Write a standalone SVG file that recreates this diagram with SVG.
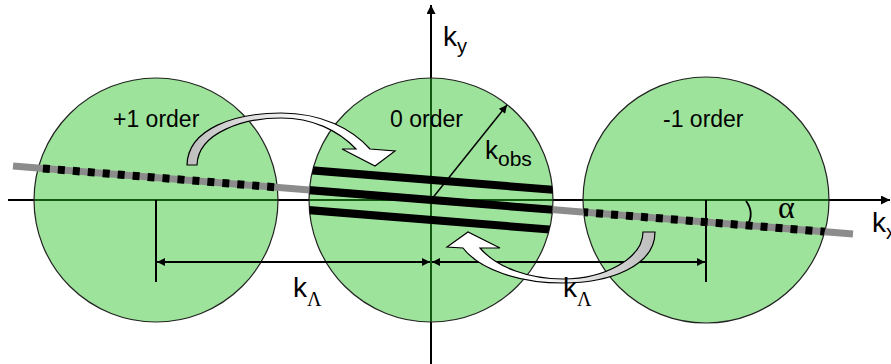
<svg xmlns="http://www.w3.org/2000/svg" width="891" height="364" viewBox="0 0 891 364">
<style>
.axis{stroke:#000;stroke-width:2;fill:none}
.circ{fill:#2bc225;fill-opacity:0.46;stroke:#222;stroke-width:1.2}
.lbl{font-family:"Liberation Sans",Arial,sans-serif;fill:#000}
.greek{font-family:"Liberation Serif","Times New Roman",serif;fill:#000}
.dim{stroke:#000;stroke-width:2;fill:none}
.carrow{stroke:#000;stroke-width:1.2}
</style>
<defs>
<marker id="ah" viewBox="0 0 10 10" refX="10" refY="5" markerWidth="12" markerHeight="9" orient="auto-start-reverse" markerUnits="userSpaceOnUse">
<path d="M0,0 L10,5 L0,10 z" fill="#000"/>
</marker>
<marker id="ahs" viewBox="0 0 10 10" refX="10" refY="5" markerWidth="10" markerHeight="8" orient="auto-start-reverse" markerUnits="userSpaceOnUse">
<path d="M0,0 L10,5 L0,10 z" fill="#000"/>
</marker>
<linearGradient id="gL" x1="0" y1="0" x2="1" y2="0">
<stop offset="0" stop-color="#bdbdbd"/>
<stop offset="0.6" stop-color="#ffffff"/>
<stop offset="1" stop-color="#ffffff"/>
</linearGradient>
<linearGradient id="gR" x1="1" y1="0" x2="0" y2="0">
<stop offset="0" stop-color="#bdbdbd"/>
<stop offset="0.6" stop-color="#ffffff"/>
<stop offset="1" stop-color="#ffffff"/>
</linearGradient>
<clipPath id="cL"><circle cx="156" cy="200" r="122"/></clipPath>
<clipPath id="cC"><circle cx="431" cy="200" r="122"/></clipPath>
<clipPath id="cR"><circle cx="706" cy="200" r="123"/></clipPath>
</defs>

<g id="axes">
<line class="axis" x1="8" y1="200" x2="890" y2="200" marker-end="url(#ah)"/>
<line class="axis" x1="431" y1="364" x2="431" y2="5" marker-end="url(#ah)"/>
</g>

<g id="order-plus1">
<circle class="circ" cx="156" cy="200" r="122"/>
</g>
<g id="order-0">
<circle class="circ" cx="431" cy="200" r="122"/>
</g>
<g id="order-minus1">
<circle class="circ" cx="706" cy="200" r="123"/>
</g>

<g id="grating-line">
<line x1="13" y1="166" x2="853" y2="234" stroke="#8c8c8c" stroke-width="7"/>
<g clip-path="url(#cL)">
<line x1="13" y1="166" x2="853" y2="234" stroke="#000" stroke-width="8" stroke-dasharray="7 8"/>
</g>
<g clip-path="url(#cR)">
<line x1="13" y1="166" x2="853" y2="234" stroke="#000" stroke-width="8" stroke-dasharray="7 8"/>
</g>
<g clip-path="url(#cC)" stroke="#000" stroke-width="8">
<line x1="300" y1="169.4" x2="560" y2="190.4"/>
<line x1="300" y1="189.4" x2="560" y2="210.4"/>
<line x1="300" y1="209.4" x2="560" y2="230.4"/>
</g>
</g>

<g id="connectors">
<line class="dim" x1="156" y1="200" x2="156" y2="282"/>
<line class="dim" x1="706" y1="200" x2="706" y2="282"/>
<line class="dim" x1="157" y1="262" x2="430" y2="262" marker-start="url(#ahs)" marker-end="url(#ahs)"/>
<line class="dim" x1="432" y1="262" x2="705" y2="262" marker-start="url(#ahs)" marker-end="url(#ahs)"/>
<line x1="431" y1="200" x2="507" y2="105" stroke="#000" stroke-width="1.5" marker-end="url(#ahs)"/>
<path d="M746,201 Q755,213 747,226" fill="none" stroke="#000" stroke-width="1.8"/>
<path class="carrow" fill="url(#gL)" d="M187,165 C188,128 236,113 281,113 C322,113 352,129 370,149 L395,151 L375,166 L342,149 L356,149 C338,130 312,118 281,118 C245,118 198,132 197,165 Z"/>
<path class="carrow" fill="url(#gR)" d="M655,232 L643,232 C643,258 605,279 563,279 C530,279 497,268 480,248 L500,248 L468,232 L447,247 L463,248 C480,270 520,283 563,283 C610,283 655,266 655,232 Z"/>
</g>

<g id="labels">
<text class="lbl" x="113" y="127" font-size="23">+1 order</text>
<text class="lbl" x="390" y="127" font-size="23">0 order</text>
<text class="lbl" x="663" y="127" font-size="23">-1 order</text>
<text class="lbl" x="443" y="46" font-size="28">k<tspan font-size="20" dy="7">y</tspan></text>
<text class="lbl" x="485" y="159" font-size="26">k<tspan font-size="21" dy="7">obs</tspan></text>
<text class="lbl" x="872" y="232" font-size="28">k<tspan font-size="20" dy="7">x</tspan></text>
<text class="lbl" x="293" y="297" font-size="28">k</text><text class="greek" x="307" y="306" font-size="20">Λ</text>
<text class="lbl" x="563" y="297" font-size="28">k</text><text class="greek" x="577" y="306" font-size="20">Λ</text>
<text class="greek" x="778" y="218" font-size="32">α</text>
</g>
</svg>
